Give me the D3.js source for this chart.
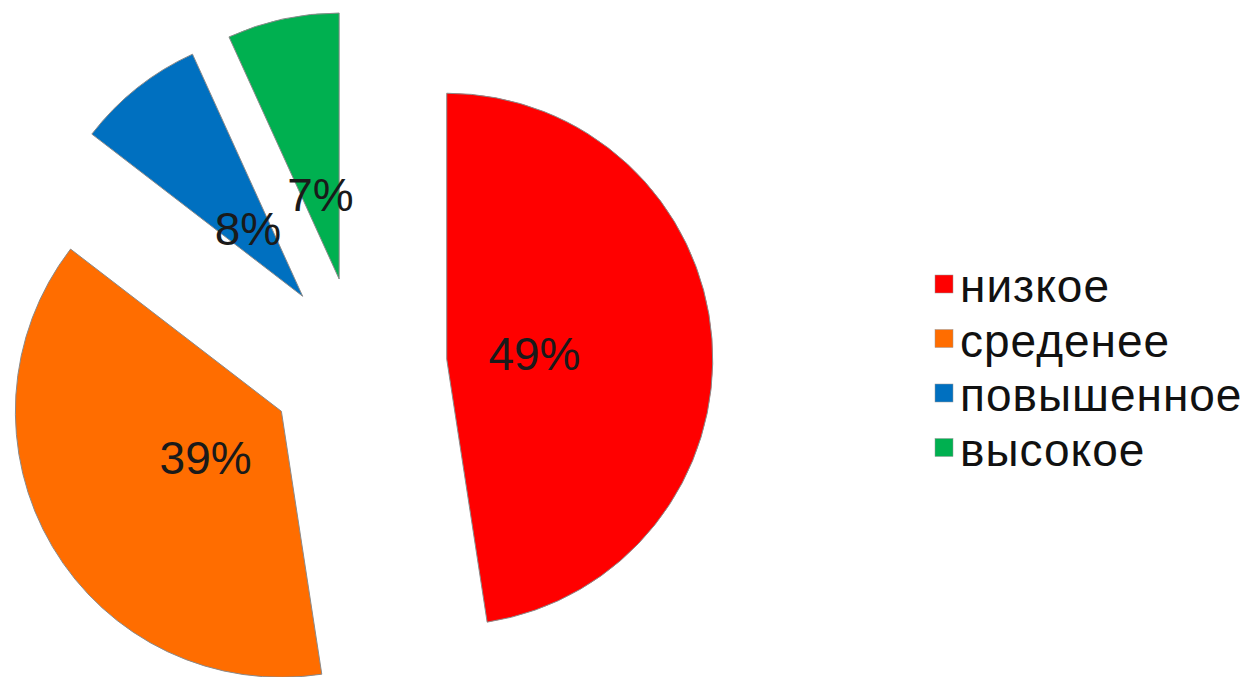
<!DOCTYPE html>
<html>
<head>
<meta charset="utf-8">
<script src="https://cdn.jsdelivr.net/npm/d3@7"></script>
<style>
  body { margin: 0; background: #fff; }
  svg { display: block; }
  text { font-family: "Liberation Sans", Arial, sans-serif; }
</style>
</head>
<body>
<div id="chart"></div>
<script>
// levels and their shares (labels as shown on the chart)
let categories = ['низкое', 'среденее', 'повышенное', 'высокое']
let values = [49, 39, 8, 7]
let colors = ['#ff0000', '#ff6d00', '#0070c0', '#00b050']

let width = 1246,
  height = 677

let svg = d3.select('#chart')
  .append('svg')
  .attr('width', width)
  .attr('height', height)

let cx = 358, cy = 366
let radius = 266
let explode = 89 // every slice pulled out by the same amount

let data = categories.map((c, i) => ({ name: c, value: values[i], color: colors[i] }))

let pie = d3.pie()
  .sort(null)
  .value(d => d.value)

let arc = d3.arc()
  .innerRadius(0)
  .outerRadius(radius)

let labelArc = d3.arc()
  .innerRadius(88)
  .outerRadius(88)

let arcs = pie(data)

let slices = svg.append('g')
  .attr('transform', 'translate(' + cx + ',' + cy + ')')
  .selectAll('.slice')
  .data(arcs)
  .enter().append('g')
  .attr('class', 'slice')
  .attr('transform', function (d) {
    let mid = (d.startAngle + d.endAngle) / 2
    return 'translate(' + (Math.sin(mid) * explode) + ',' + (-Math.cos(mid) * explode) + ')'
  })

slices.append('path')
  .attr('d', arc)
  .attr('fill', d => d.data.color)
  .attr('stroke', '#8a8a8a')
  .attr('stroke-width', 1)

slices.append('text')
  .attr('transform', d => 'translate(' + labelArc.centroid(d) + ')')
  .attr('text-anchor', 'middle')
  .attr('dy', '0.38em')
  .style('font-size', '46px')
  .style('fill', '#1a1a1a')
  .text(d => d.data.value + '%')

// legend
let legend = svg.append('g')
  .attr('transform', 'translate(935, 0)')

let rows = legend.selectAll('.legend-row')
  .data(data)
  .enter().append('g')
  .attr('class', 'legend-row')
  .attr('transform', (d, i) => 'translate(0,' + (302 + i * 54.5) + ')')

rows.append('rect')
  .attr('x', 0)
  .attr('y', -27)
  .attr('width', 18)
  .attr('height', 18)
  .attr('fill', d => d.color)
  .attr('stroke', '#999')
  .attr('stroke-width', 0.5)

rows.append('text')
  .attr('x', 25)
  .attr('y', 0)
  .style('font-size', '46px')
  .style('letter-spacing', '1px')
  .style('fill', '#111')
  .text(d => d.name)
</script>
</body>
</html>
